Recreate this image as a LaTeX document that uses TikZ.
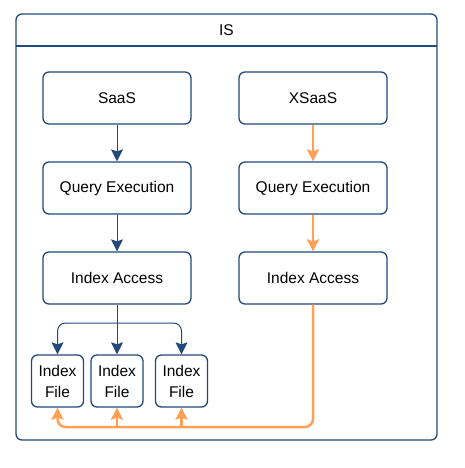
\documentclass[tikz,border=0pt]{standalone}
\usepackage{fontspec}
\setmainfont{Liberation Sans}
\usetikzlibrary{arrows.meta}
\definecolor{isblue}{RGB}{35,73,122}
\definecolor{isorange}{RGB}{255,160,85}
\tikzset{
  box/.style={draw=isblue, line width=1.3pt, rounded corners=6pt, fill=white,
    minimum width=148pt, minimum height=52pt, inner sep=0pt,
    font=\fontsize{15.5}{21}\selectfont},
  filebox/.style={box, minimum width=52pt, align=center},
  bluearrow/.style={draw=isblue, line width=1pt, rounded corners=8pt,
    -{Stealth[inset=2pt, width=12pt, length=12pt]}},
  orangearrow/.style={draw=isorange, line width=2.5pt, rounded corners=8pt,
    -{Stealth[inset=2pt, width=12pt, length=12pt]}},
}
\begin{document}
\begin{tikzpicture}[x=1pt, y=-1pt]
      \useasboundingbox (0,0) rectangle (464,468);
      % container
      \draw[isblue, line width=1.3pt, rounded corners=6pt] (16,14) rectangle (437,440);
      \draw[isblue, line width=1.3pt] (16,46) -- (437,46);
      \node[font=\fontsize{15.5}{19}\selectfont] (is) at (226.5,30) {IS};
      \draw
        (117,98) node[box] (saas){SaaS}
        (313,98) node[box] (xsaas){XSaaS}
        (117,188) node[box] (qe1){Query Execution}
        (313,188) node[box] (qe2){Query Execution}
        (117,278) node[box] (ia1){Index Access}
        (313,278) node[box] (ia2){Index Access}
        (57.5,381) node[filebox] (f1){Index\\File}
        (117,381) node[filebox] (f2){Index\\File}
        (181.5,381) node[filebox] (f3){Index\\File};
      \coordinate (fork) at (117,323);
      \coordinate (bus) at (57.5,427);
      \begin{scope}[bluearrow]
        \draw (saas) to (qe1);
        \draw (qe1) to (ia1);
        \draw (ia1.south) -- (f2.north);
        \draw (fork) -| (f1.north);
        \draw (fork) -| (f3.north);
      \end{scope}
      \begin{scope}[orangearrow]
        \draw (xsaas) to (qe2);
        \draw (qe2) to (ia2);
        \draw (ia2.south) |- (bus) -- (f1.south);
        \draw (bus -| f2.south) -- (f2.south);
        \draw (bus -| f3.south) -- (f3.south);
      \end{scope}
    \end{tikzpicture}
\end{document}
